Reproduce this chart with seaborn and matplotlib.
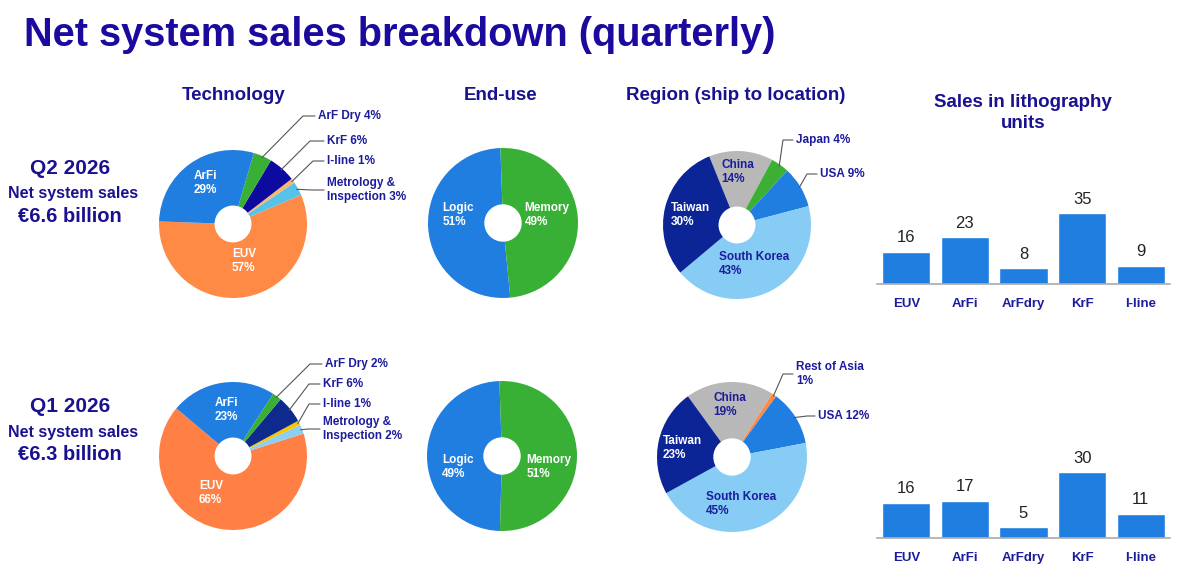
import numpy as np
import pandas as pd
import seaborn as sns
import matplotlib.pyplot as plt

# ---- data ----
tech_labels = ["EUV", "Metrology &\nInspection", "I-line", "KrF", "ArF Dry", "ArFi"]
tech_q2 = [57, 3, 1, 6, 4, 29]
tech_q1 = [66, 2, 1, 6, 2, 23]

enduse_labels = ["Logic", "Memory"]
enduse_q2 = [51, 49]
enduse_q1 = [49, 51]

region_labels_q2 = ["China", "Japan", "USA", "South Korea", "Taiwan"]
region_q2 = [14, 4, 9, 43, 30]
region_labels_q1 = ["China", "Rest of Asia\n", "USA", "South Korea", "Taiwan"]
region_q1 = [19, 1, 12, 45, 23]

litho_types = ["EUV", "ArFi", "ArFdry", "KrF", "I-line"]
units_q2 = [16, 23, 8, 35, 9]
units_q1 = [16, 17, 5, 30, 11]

# ---- style ----
sns.set_theme(style="white")
plt.rcParams['font.family'] = ['Liberation Sans', 'DejaVu Sans']

NAVY = "#1a1190"
TXT = "#1c1c9c"
W, H = 1178, 585

tech_colors_q2 = ["#ff8a45", "#56c2ea", "#f7b86c", "#0d0aa0", "#3aaf35", "#1f7ee0"]
tech_colors_q1 = ["#ff7f45", "#8ccff2", "#f7c600", "#0e2a8c", "#3aaf35", "#1f7ee0"]
enduse_colors = ["#1f7ee0", "#38b036"]
region_colors_q2 = ["#b8b8b8", "#3cb034", "#1f7ee0", "#86ccf5", "#0c2596"]
region_colors_q1 = ["#b8b8b8", "#ff8a45", "#1f7ee0", "#86ccf5", "#0c2596"]

fig = plt.figure(figsize=(W / 100, H / 100), dpi=100)


def fpos(x, y):
    return x / W, 1 - y / H


def draw_pie(values, colors, cx, cy, r, start, ccw, inside, outside):
    ax = fig.add_axes([(cx - r) / W, 1 - (cy + r) / H, 2 * r / W, 2 * r / H])
    wedges, _ = ax.pie(values, colors=colors, startangle=start, counterclock=ccw,
                       wedgeprops=dict(linewidth=0))
    ax.add_patch(plt.Circle((0, 0), 0.24, color="white", zorder=5))
    ax.set_xlim(-1, 1)
    ax.set_ylim(-1, 1)
    ax.axis("off")
    # labels inside the slices: (index, text, x, y, colour)
    for i, txt, x, y, c in inside:
        ax.text((x - cx) / r, (cy - y) / r, txt, ha="center", va="center",
                multialignment="left", color=c, fontsize=8.5, fontweight="bold")
    # labels outside with leader lines: (index, text, elbow_x, text_x, y)
    for i, txt, ex, tx, y in outside:
        w = wedges[i]
        ang = np.deg2rad((w.theta1 + w.theta2) / 2)
        x0, y0 = 0.98 * np.cos(ang), 0.98 * np.sin(ang)
        ey = (cy - y) / r
        ax.plot([x0, (ex - cx) / r, (tx - 3 - cx) / r], [y0, ey, ey],
                color="#555555", lw=0.8, clip_on=False)
        ax.text((tx - cx) / r, ey, txt, ha="left", va="center", color=TXT,
                fontsize=8.5, fontweight="bold", linespacing=1.15)
    return ax


def pct(label, v):
    return f"{label} {v}%"


# Technology
draw_pie(tech_q2, tech_colors_q2, 233, 224, 74, 178, True,
         [(5, f"ArFi\n{tech_q2[5]}%", 205, 183, "white"),
          (0, f"EUV\n{tech_q2[0]}%", 244, 261, "white")],
         [(4, pct("ArF Dry", tech_q2[4]), 303, 318, 116),
          (3, pct("KrF", tech_q2[3]), 310, 327, 141),
          (2, pct("I-line", tech_q2[2]), 313, 327, 161),
          (1, f"Metrology &\nInspection {tech_q2[1]}%", 312, 327, 190)])
draw_pie(tech_q1, tech_colors_q1, 233, 456, 74, 140, True,
         [(5, f"ArFi\n{tech_q1[5]}%", 226, 410, "white"),
          (0, f"EUV\n{tech_q1[0]}%", 211, 493, "white")],
         [(4, pct("ArF Dry", tech_q1[4]), 310, 325, 364),
          (3, pct("KrF", tech_q1[3]), 309, 323, 384),
          (2, pct("I-line", tech_q1[2]), 309, 323, 404),
          (1, f"Metrology &\nInspection {tech_q1[1]}%", 308, 323, 429)])

# End-use
draw_pie(enduse_q2, enduse_colors, 503, 223, 75, 92, True,
         [(0, f"Logic\n{enduse_q2[0]}%", 458, 215, "white"),
          (1, f"Memory\n{enduse_q2[1]}%", 547, 215, "white")], [])
draw_pie(enduse_q1, enduse_colors, 502, 456, 75, 92, True,
         [(0, f"Logic\n{enduse_q1[0]}%", 458, 467, "white"),
          (1, f"Memory\n{enduse_q1[1]}%", 549, 467, "white")], [])

# Region
draw_pie(region_q2, region_colors_q2, 737, 225, 74, 112, False,
         [(0, f"China\n{region_q2[0]}%", 738, 172, TXT),
          (4, f"Taiwan\n{region_q2[4]}%", 690, 215, "white"),
          (3, f"South Korea\n{region_q2[3]}%", 754, 264, TXT)],
         [(1, pct("Japan", region_q2[1]), 783, 796, 140),
          (2, pct("USA", region_q2[2]), 807, 820, 174)])
draw_pie(region_q1, region_colors_q1, 732, 457, 75, 126, False,
         [(0, f"China\n{region_q1[0]}%", 730, 405, TXT),
          (4, f"Taiwan\n{region_q1[4]}%", 682, 448, "white"),
          (3, f"South Korea\n{region_q1[3]}%", 741, 504, TXT)],
         [(1, f"Rest of Asia\n{region_q1[1]}%", 783, 796, 374),
          (2, pct("USA", region_q1[2]), 807, 818, 416)])


# Sales in lithography units (bars)
def draw_bars(values, base_y, top_y, ymax):
    ax = fig.add_axes([877 / W, 1 - base_y / H, 293 / W, (base_y - top_y) / H])
    df = pd.DataFrame({"type": litho_types, "units": values})
    sns.barplot(data=df, x="type", y="units", color="#1f7ee0", saturation=1,
                width=0.82, ax=ax)
    ax.set_xlim(-0.5, 4.5)
    ax.set_ylim(0, ymax)
    for i, v in enumerate(values):
        ax.text(i, v + ymax * 0.06, str(v), ha="center", va="bottom",
                fontsize=12, color="#222222")
    sns.despine(ax=ax, left=True)
    ax.spines["bottom"].set_color("#aaaaaa")
    ax.spines["bottom"].set_linewidth(1.2)
    ax.set_yticks([])
    ax.set_xlabel("")
    ax.set_ylabel("")
    ax.tick_params(axis="x", length=0, pad=10)
    for t in ax.get_xticklabels():
        t.set_fontweight("bold")
        t.set_color(TXT)
        t.set_fontsize(9.5)
    ax.patch.set_alpha(0)


draw_bars(units_q2, 284, 180, (284 - 180) / 2.03)
draw_bars(units_q1, 538, 430, (538 - 430) / 2.2)

# ---- texts ----
fig.text(*fpos(24, 35), "Net system sales breakdown (quarterly)", ha="left",
         va="center", fontsize=28.6, fontweight="bold", color="#1a0a9e")

for x, y, s in [(234, 96, "Technology"), (501, 96, "End-use"),
                (736, 96, "Region (ship to location)")]:
    fig.text(*fpos(x, y), s, ha="center", va="center", fontsize=13.5,
             fontweight="bold", color=NAVY)
fig.text(*fpos(1023, 113), "Sales in lithography\nunits", ha="center",
         va="center", fontsize=13.5, fontweight="bold", color=NAVY,
         linespacing=1.25)

for y0, q, amt in [(168, "Q2 2026", "€6.6 billion"), (406, "Q1 2026", "€6.3 billion")]:
    fig.text(*fpos(70, y0), q, ha="center", va="center", fontsize=15,
             fontweight="bold", color=NAVY)
    fig.text(*fpos(73, y0 + 26), "Net system sales", ha="center", va="center",
             fontsize=11.5, fontweight="bold", color=NAVY)
    fig.text(*fpos(70, y0 + 48), amt, ha="center", va="center", fontsize=14.5,
             fontweight="bold", color=NAVY)

fig.savefig("out.png", dpi=100)
